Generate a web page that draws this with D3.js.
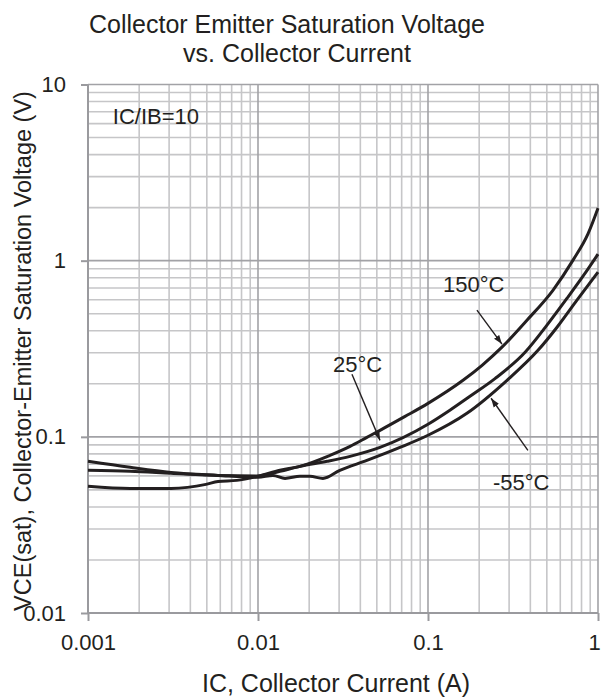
<!DOCTYPE html>
<html>
<head>
<meta charset="utf-8">
<script src="https://cdn.jsdelivr.net/npm/d3@7"></script>
<style>
  body { margin: 0; background: #fff; }
  svg text { font-family: "Liberation Sans", Arial, sans-serif; fill: #231f20; }
</style>
</head>
<body>
<div id="chart"></div>
<script>
// tick labels
const xTickValues = [0.001, 0.01, 0.1, 1];
const xTickLabels = ["0.001", "0.01", "0.1", "1"];
const yTickValues = [0.01, 0.1, 1, 10];
const yTickLabels = ["0.01", "0.1", "1", "10"];

// curves (IC in A, VCE(sat) in V)
const ic150 = [0.001, 0.00177, 0.00308, 0.00494, 0.00582, 0.0075, 0.01, 0.01346, 0.01766, 0.0265, 0.0348, 0.0437, 0.0522, 0.0733, 0.1, 0.1607, 0.208, 0.2723, 0.382, 0.543, 0.713, 0.873, 1];
const vce150 = [0.0524, 0.0509, 0.0509, 0.0537, 0.0558, 0.0566, 0.0597, 0.0646, 0.068, 0.0785, 0.0883, 0.0993, 0.1089, 0.1306, 0.1549, 0.2094, 0.2547, 0.3228, 0.459, 0.679, 1.007, 1.42, 1.987];

const ic25 = [0.001, 0.00177, 0.00308, 0.00582, 0.01, 0.01346, 0.01766, 0.0255, 0.0348, 0.0522, 0.1, 0.1345, 0.1766, 0.2477, 0.3725, 0.501, 0.658, 0.84, 1];
const vce25 = [0.0646, 0.0637, 0.0621, 0.0604, 0.06, 0.0637, 0.068, 0.0726, 0.0775, 0.0871, 0.1178, 0.1415, 0.1698, 0.214, 0.302, 0.4305, 0.612, 0.849, 1.089];

const icM55 = [0.001, 0.00177, 0.00308, 0.00582, 0.01, 0.01225, 0.01442, 0.01766, 0.0202, 0.0241, 0.0303, 0.0437, 0.0684, 0.1, 0.1694, 0.2917, 0.4436, 0.574, 0.752, 1];
const vceM55 = [0.0726, 0.0671, 0.0628, 0.0604, 0.0589, 0.0604, 0.0581, 0.0597, 0.0597, 0.0581, 0.0646, 0.0735, 0.0871, 0.1021, 0.1361, 0.2094, 0.3097, 0.419, 0.597, 0.861];

// annotations: label anchor and arrow (from -> to), in data units
const seriesNames = ["150°C", "25°C", "-55°C"];
const labelAt = [[0.1225, 0.662], [0.0276, 0.232], [0.241, 0.0497]];
const arrowFrom = [[0.194, 0.524], [0.0357, 0.2264], [0.387, 0.0838]];
const arrowTo = [[0.2723, 0.336], [0.0522, 0.0955], [0.235, 0.1656]];
const ratioNote = "IC/IB=10";
const ratioAt = [0.0014, 5.97];

const config = {
    width: 603,
    height: 700,
    margin: {top: 84.5, left: 88, right: 5, bottom: 87}
};

const svg = d3.select("#chart").append("svg")
    .attr("width", config.width)
    .attr("height", config.height);

const w = config.width - config.margin.left - config.margin.right;
const h = config.height - config.margin.top - config.margin.bottom;

const x = d3.scaleLog().domain([0.001, 1]).range([0, w]);
const y = d3.scaleLog().domain([0.01, 10]).range([h, 0]);

const chart = svg.append("g")
    .attr("transform", `translate(${config.margin.left},${config.margin.top})`);

// grid: minor first, then decades on top
const minorX = x.ticks().filter(v => !xTickValues.includes(+v.toPrecision(3)));
const minorY = y.ticks().filter(v => !yTickValues.includes(+v.toPrecision(3)));

const grid = chart.append("g").attr("class", "grid");
grid.selectAll(".vx").data(minorX).join("line")
    .attr("x1", d => x(d)).attr("x2", d => x(d))
    .attr("y1", 0).attr("y2", h)
    .attr("stroke", "#c6c6c8").attr("stroke-width", 1.6);
grid.selectAll(".hy").data(minorY).join("line")
    .attr("y1", d => y(d)).attr("y2", d => y(d))
    .attr("x1", 0).attr("x2", w)
    .attr("stroke", "#c6c6c8").attr("stroke-width", 1.6);
grid.selectAll(".vmaj").data(xTickValues).join("line")
    .attr("x1", d => x(d)).attr("x2", d => x(d))
    .attr("y1", 0).attr("y2", h)
    .attr("stroke", "#a2a2a6").attr("stroke-width", 1.6);
grid.selectAll(".hmaj").data(yTickValues).join("line")
    .attr("y1", d => y(d)).attr("y2", d => y(d))
    .attr("x1", 0).attr("x2", w)
    .attr("stroke", "#a2a2a6").attr("stroke-width", 1.6);

// axes
const xAxis = d3.axisBottom(x)
    .tickValues(xTickValues)
    .tickFormat((d, i) => xTickLabels[i])
    .tickSize(8).tickPadding(8);
const yAxis = d3.axisLeft(y)
    .tickValues(yTickValues)
    .tickFormat((d, i) => yTickLabels[i])
    .tickSize(7).tickPadding(15);

const xAxisG = chart.append("g")
    .attr("transform", `translate(0,${h})`)
    .call(xAxis);
const yAxisG = chart.append("g").call(yAxis);

[xAxisG, yAxisG].forEach(g => {
    g.select(".domain").attr("stroke", "#9a9a9e").attr("stroke-width", 2);
    g.selectAll(".tick line").attr("stroke", "#9a9a9e").attr("stroke-width", 2);
    g.selectAll(".tick text")
        .attr("fill", "#231f20")
        .style("font-size", "22px")
        .style("font-family", "Liberation Sans, Arial, sans-serif");
});
xAxisG.select(".domain").attr("d", `M0,0H${w}`);
yAxisG.select(".domain").attr("d", `M0,${h}V0`);
xAxisG.selectAll(".tick text").attr("dy", "0.95em");
// last label sits at the window edge; nudge it inside
xAxisG.selectAll(".tick text").filter((d, i) => i === xTickValues.length - 1).attr("dx", -4);

// curves
const line = d3.line()
    .x(d => x(d[0]))
    .y(d => y(d[1]))
    .curve(d3.curveMonotoneX);

const curves = [
    d3.zip(ic150, vce150),
    d3.zip(ic25, vce25),
    d3.zip(icM55, vceM55)
];

chart.selectAll(".curve").data(curves).join("path")
    .attr("class", "curve")
    .attr("d", line)
    .attr("fill", "none")
    .attr("stroke", "#231f20")
    .attr("stroke-width", 3)
    .attr("stroke-linejoin", "round");

// arrows + labels
svg.append("defs").append("marker")
    .attr("id", "head")
    .attr("viewBox", "0 0 10 10")
    .attr("refX", 10).attr("refY", 5)
    .attr("markerWidth", 9).attr("markerHeight", 9)
    .attr("markerUnits", "userSpaceOnUse")
    .attr("orient", "auto")
  .append("path")
    .attr("d", "M0,1.5L10,5L0,8.5Z")
    .attr("fill", "#231f20");

chart.selectAll(".arrow").data(seriesNames).join("line")
    .attr("class", "arrow")
    .attr("x1", (d, i) => x(arrowFrom[i][0]))
    .attr("y1", (d, i) => y(arrowFrom[i][1]))
    .attr("x2", (d, i) => x(arrowTo[i][0]))
    .attr("y2", (d, i) => y(arrowTo[i][1]))
    .attr("stroke", "#231f20")
    .attr("stroke-width", 1.4)
    .attr("marker-end", "url(#head)");

chart.selectAll(".series-label").data(seriesNames).join("text")
    .attr("class", "series-label")
    .attr("x", (d, i) => x(labelAt[i][0]))
    .attr("y", (d, i) => y(labelAt[i][1]))
    .style("font-size", "22px")
    .text(d => d);

chart.append("text")
    .attr("x", x(ratioAt[0]))
    .attr("y", y(ratioAt[1]))
    .style("font-size", "22px")
    .text(ratioNote);

// titles
svg.append("text")
    .attr("x", 287).attr("y", 33)
    .attr("text-anchor", "middle")
    .style("font-size", "25px")
    .text("Collector Emitter Saturation Voltage");
svg.append("text")
    .attr("x", 297).attr("y", 62)
    .attr("text-anchor", "middle")
    .style("font-size", "25px")
    .text("vs. Collector Current");

svg.append("text")
    .attr("x", 336).attr("y", 692)
    .attr("text-anchor", "middle")
    .style("font-size", "25px")
    .text("IC, Collector Current (A)");

svg.append("text")
    .attr("transform", "translate(31,351) rotate(-90)")
    .attr("text-anchor", "middle")
    .style("font-size", "23.5px")
    .text("VCE(sat), Collector-Emitter Saturation Voltage (V)");
</script>
</body>
</html>
